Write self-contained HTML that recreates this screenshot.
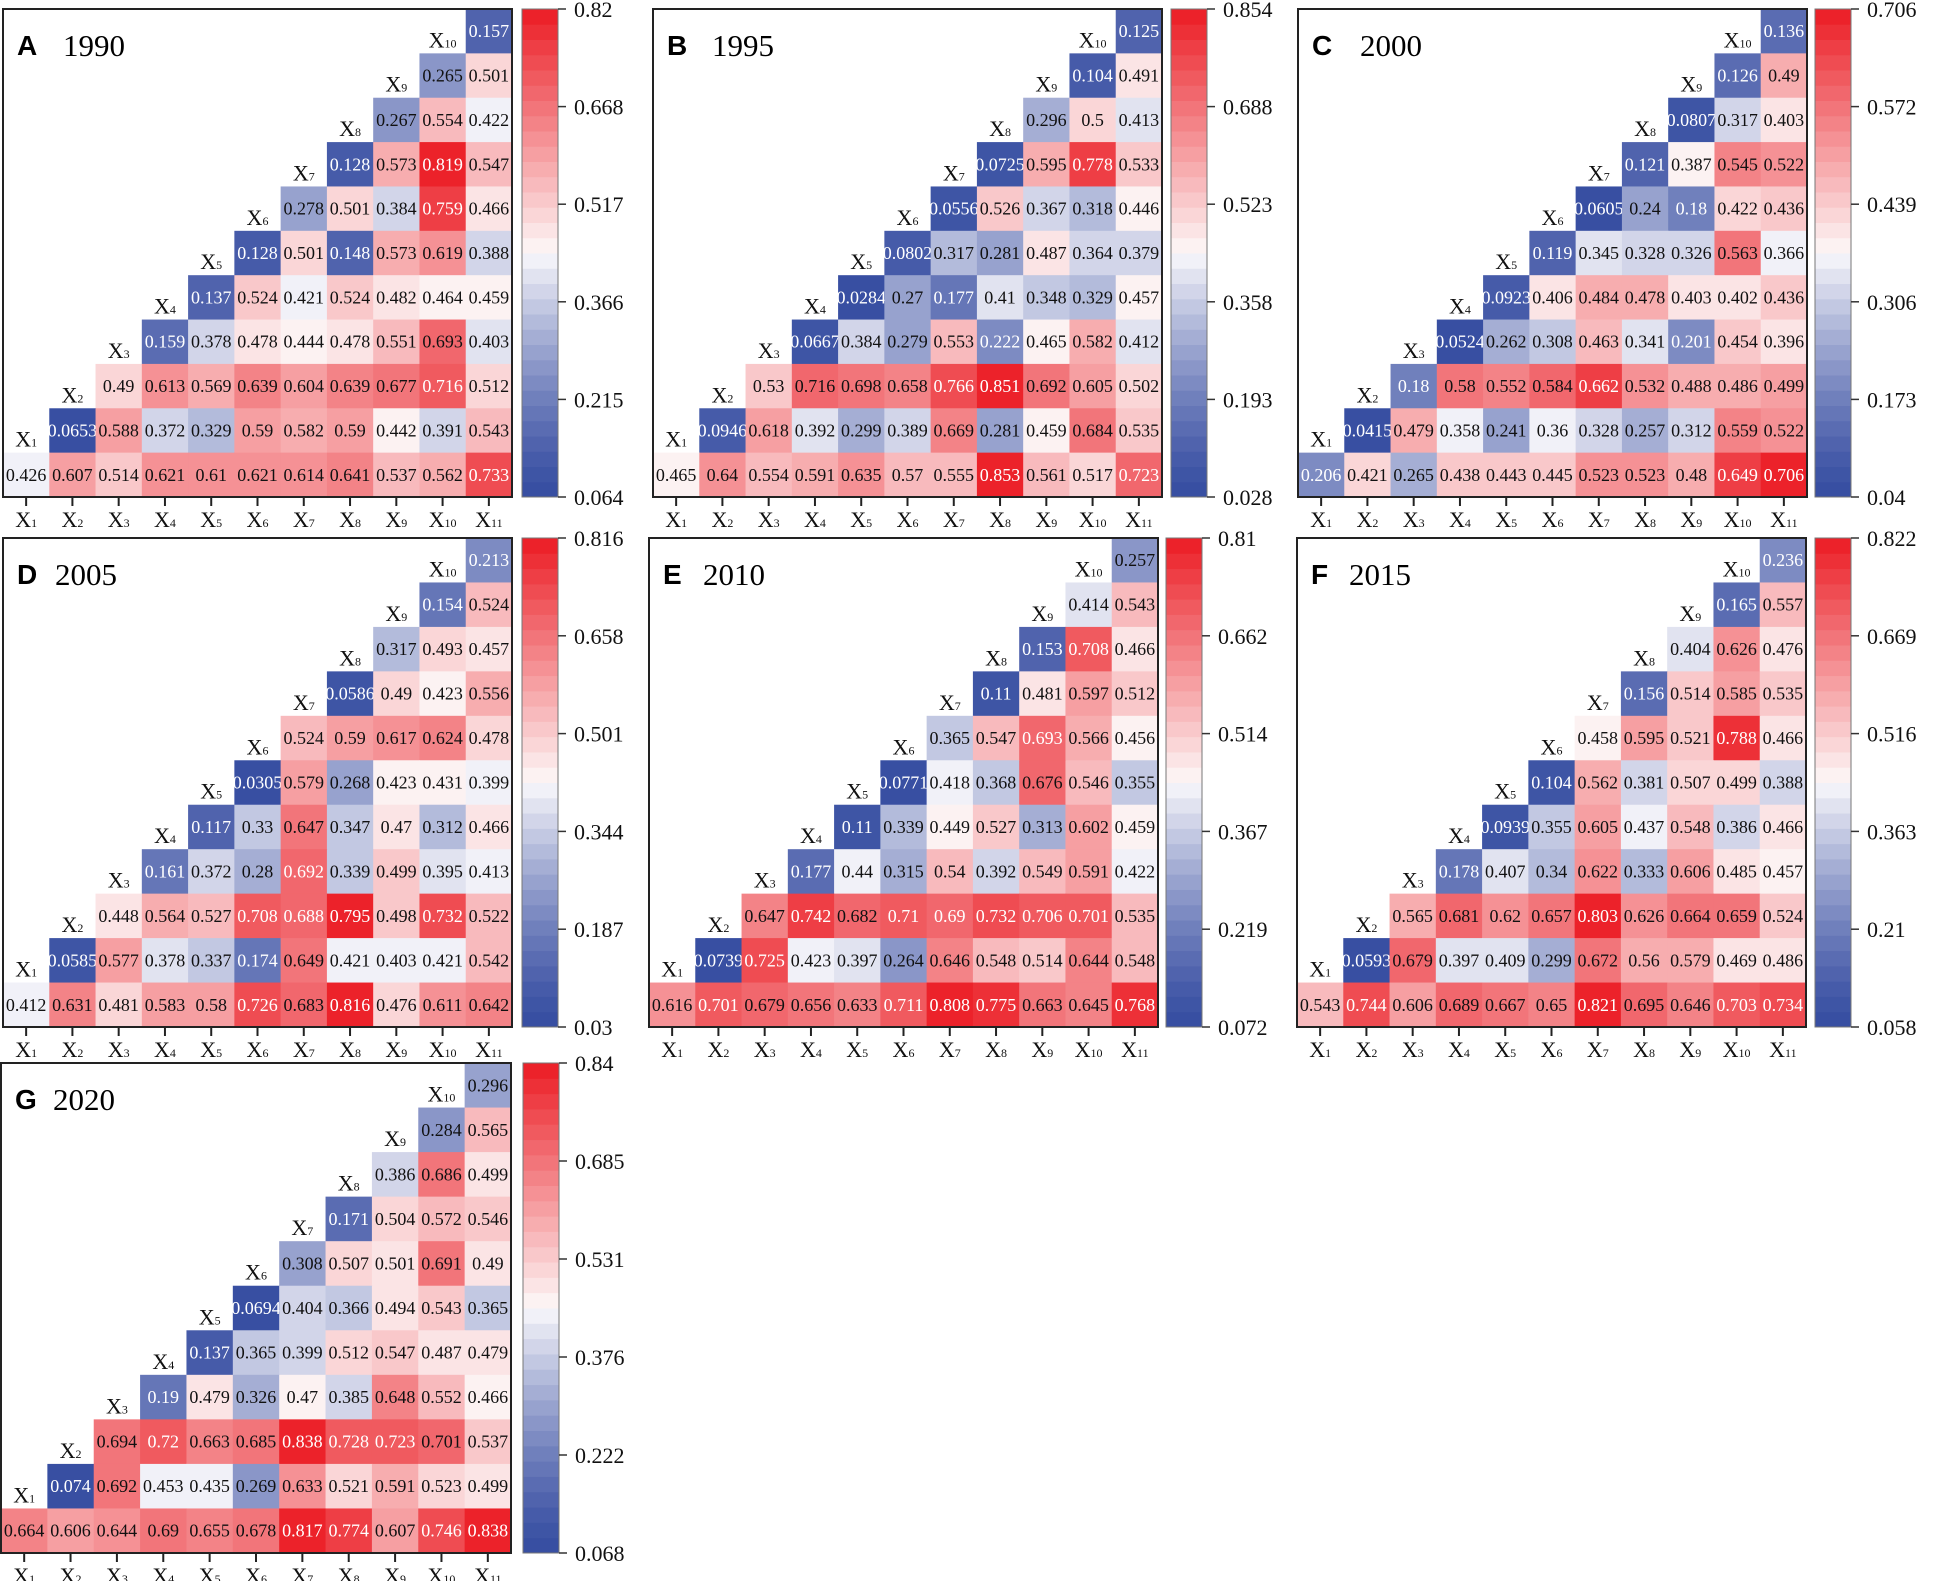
<!DOCTYPE html>
<html><head><meta charset="utf-8">
<style>
html,body{margin:0;padding:0;background:#fff;}
svg{display:block;}
text{font-family:"Liberation Serif",serif;}
.lt{font-family:"Liberation Sans",sans-serif;font-weight:bold;}
</style></head>
<body>
<svg id="fig" width="1940" height="1581" viewBox="0 0 1940 1581" xmlns="http://www.w3.org/2000/svg"></svg>
<script>
const panelLetters = ["A","B","C","D","E","F","G"];
const panelYears = ["1990","1995","2000","2005","2010","2015","2020"];
const rangeMin = [0.064,0.028,0.04,0.03,0.072,0.058,0.068];
const rangeMax = [0.82,0.854,0.706,0.816,0.81,0.822,0.84];
const tickA = ["0.82","0.668","0.517","0.366","0.215","0.064"];
const tickB = ["0.854","0.688","0.523","0.358","0.193","0.028"];
const tickC = ["0.706","0.572","0.439","0.306","0.173","0.04"];
const tickD = ["0.816","0.658","0.501","0.344","0.187","0.03"];
const tickE = ["0.81","0.662","0.514","0.367","0.219","0.072"];
const tickF = ["0.822","0.669","0.516","0.363","0.21","0.058"];
const tickG = ["0.84","0.685","0.531","0.376","0.222","0.068"];
const varLabels = ["1","2","3","4","5","6","7","8","9","10","11"];
const dataA = [
[0.157],[0.265,0.501],[0.267,0.554,0.422],[0.128,0.573,0.819,0.547],
[0.278,0.501,0.384,0.759,0.466],[0.128,0.501,0.148,0.573,0.619,0.388],
[0.137,0.524,0.421,0.524,0.482,0.464,0.459],[0.159,0.378,0.478,0.444,0.478,0.551,0.693,0.403],
[0.49,0.613,0.569,0.639,0.604,0.639,0.677,0.716,0.512],
[0.0653,0.588,0.372,0.329,0.59,0.582,0.59,0.442,0.391,0.543],
[0.426,0.607,0.514,0.621,0.61,0.621,0.614,0.641,0.537,0.562,0.733]];
const dataB = [
[0.125],[0.104,0.491],[0.296,0.5,0.413],[0.0725,0.595,0.778,0.533],
[0.0556,0.526,0.367,0.318,0.446],[0.0802,0.317,0.281,0.487,0.364,0.379],
[0.0284,0.27,0.177,0.41,0.348,0.329,0.457],[0.0667,0.384,0.279,0.553,0.222,0.465,0.582,0.412],
[0.53,0.716,0.698,0.658,0.766,0.851,0.692,0.605,0.502],
[0.0946,0.618,0.392,0.299,0.389,0.669,0.281,0.459,0.684,0.535],
[0.465,0.64,0.554,0.591,0.635,0.57,0.555,0.853,0.561,0.517,0.723]];
const dataC = [
[0.136],[0.126,0.49],[0.0807,0.317,0.403],[0.121,0.387,0.545,0.522],
[0.0605,0.24,0.18,0.422,0.436],[0.119,0.345,0.328,0.326,0.563,0.366],
[0.0923,0.406,0.484,0.478,0.403,0.402,0.436],[0.0524,0.262,0.308,0.463,0.341,0.201,0.454,0.396],
[0.18,0.58,0.552,0.584,0.662,0.532,0.488,0.486,0.499],
[0.0415,0.479,0.358,0.241,0.36,0.328,0.257,0.312,0.559,0.522],
[0.206,0.421,0.265,0.438,0.443,0.445,0.523,0.523,0.48,0.649,0.706]];
const dataD = [
[0.213],[0.154,0.524],[0.317,0.493,0.457],[0.0586,0.49,0.423,0.556],
[0.524,0.59,0.617,0.624,0.478],[0.0305,0.579,0.268,0.423,0.431,0.399],
[0.117,0.33,0.647,0.347,0.47,0.312,0.466],[0.161,0.372,0.28,0.692,0.339,0.499,0.395,0.413],
[0.448,0.564,0.527,0.708,0.688,0.795,0.498,0.732,0.522],
[0.0585,0.577,0.378,0.337,0.174,0.649,0.421,0.403,0.421,0.542],
[0.412,0.631,0.481,0.583,0.58,0.726,0.683,0.816,0.476,0.611,0.642]];
const dataE = [
[0.257],[0.414,0.543],[0.153,0.708,0.466],[0.11,0.481,0.597,0.512],
[0.365,0.547,0.693,0.566,0.456],[0.0771,0.418,0.368,0.676,0.546,0.355],
[0.11,0.339,0.449,0.527,0.313,0.602,0.459],[0.177,0.44,0.315,0.54,0.392,0.549,0.591,0.422],
[0.647,0.742,0.682,0.71,0.69,0.732,0.706,0.701,0.535],
[0.0739,0.725,0.423,0.397,0.264,0.646,0.548,0.514,0.644,0.548],
[0.616,0.701,0.679,0.656,0.633,0.711,0.808,0.775,0.663,0.645,0.768]];
const dataF = [
[0.236],[0.165,0.557],[0.404,0.626,0.476],[0.156,0.514,0.585,0.535],
[0.458,0.595,0.521,0.788,0.466],[0.104,0.562,0.381,0.507,0.499,0.388],
[0.0939,0.355,0.605,0.437,0.548,0.386,0.466],[0.178,0.407,0.34,0.622,0.333,0.606,0.485,0.457],
[0.565,0.681,0.62,0.657,0.803,0.626,0.664,0.659,0.524],
[0.0593,0.679,0.397,0.409,0.299,0.672,0.56,0.579,0.469,0.486],
[0.543,0.744,0.606,0.689,0.667,0.65,0.821,0.695,0.646,0.703,0.734]];
const dataG = [
[0.296],[0.284,0.565],[0.386,0.686,0.499],[0.171,0.504,0.572,0.546],
[0.308,0.507,0.501,0.691,0.49],[0.0694,0.404,0.366,0.494,0.543,0.365],
[0.137,0.365,0.399,0.512,0.547,0.487,0.479],[0.19,0.479,0.326,0.47,0.385,0.648,0.552,0.466],
[0.694,0.72,0.663,0.685,0.838,0.728,0.723,0.701,0.537],
[0.074,0.692,0.453,0.435,0.269,0.633,0.521,0.591,0.523,0.499],
[0.664,0.606,0.644,0.69,0.655,0.678,0.817,0.774,0.607,0.746,0.838]];

const allData=[dataA,dataB,dataC,dataD,dataE,dataF,dataG];
const allTicks=[tickA,tickB,tickC,tickD,tickE,tickF,tickG];
// layout: [gridLeft, gridTop, gridW, gridH, cbLeft, yearOffset]
const layout=[[3,9,509,488,522,60],[653,9,509,488,1171,59],[1298,9,509,488,1815,62],
[3,538,509,489,522,52],[649,538,509,489,1166,54],[1297,538,509,489,1815,52],[1,1063,510,490,523,52]];
const NS="http://www.w3.org/2000/svg";
const svg=document.getElementById('fig');
const LEVELS=32;
function colorAt(t){
  t=Math.max(0,Math.min(1,t));
  const q=Math.min(LEVELS-1,Math.floor(t*LEVELS));
  const tt=(q+0.5)/LEVELS;
  let r,g,b;
  if(tt<0.5){const s=Math.pow(tt/0.5,1.35);
    r=55+(250-55)*s; g=78+(249-78)*s; b=162+(252-162)*s;}
  else{const u=(tt-0.5)/0.5;
    r=253+(236-253)*u; g=249+(28-249)*u; b=249+(36-249)*u;}
  return `rgb(${r|0},${g|0},${b|0})`;
}
function mk(tag,attrs,parent){const e=document.createElementNS(NS,tag);for(const k in attrs)e.setAttribute(k,attrs[k]);(parent||svg).appendChild(e);return e;}
function xlabel(parent,x,y,idx,size){
  const t=mk('text',{x:x,y:y,'text-anchor':'middle','font-size':size,fill:'#111'},parent);
  
  
  t.appendChild(document.createTextNode('X'));
  const s=document.createElementNS(NS,'tspan');
  s.setAttribute('font-size',Math.round(size*0.55));
  s.textContent=varLabels[idx];
  t.appendChild(s);
  return t;
}
allData.forEach((data,p)=>{
  const [L,T,W,H,CB,YO]=layout[p];
  const mn=rangeMin[p],mx=rangeMax[p];
  const cw=W/11,ch=H/11;
  const g=mk('g',{});
  
  
  data.forEach((row,r)=>{
    const start=11-row.length;
    row.forEach((v,k)=>{
      const c=start+k;
      const t=(v-mn)/(mx-mn);
      const rc=mk('rect',{x:L+c*cw,y:T+r*ch,width:cw+0.6,height:ch+0.6,fill:colorAt(t)},g);
      
      
      const tx=mk('text',{x:L+(c+0.5)*cw,y:T+(r+0.5)*ch+6,'text-anchor':'middle','font-size':18,fill:(t<0.25||t>0.835)?'#fff':'#111'},g);
      
      
      tx.textContent=String(v);
    });
    if(r<10){ xlabel(g,L+(9-r+0.5)*cw,T+(r+1)*ch-6,9-r,22); }
  });
  const fr=mk('rect',{x:L,y:T,width:W,height:H,fill:'none',stroke:'#222','stroke-width':2},g);
  
  
  for(let c=0;c<11;c++){
    const x=L+(c+0.5)*cw;
    const tk=mk('line',{x1:x,y1:T+H,x2:x,y2:T+H+9,stroke:'#222','stroke-width':2},g);
    
    
    xlabel(g,x,T+H+30,c,22);
  }
  const lt=mk('text',{x:L+14,y:T+46,'font-size':28,fill:'#000',class:'lt'},g);
  
  
  lt.textContent=panelLetters[p];
  const yr=mk('text',{x:L+YO,y:T+47,'font-size':31,fill:'#000'},g);
  
  
  yr.textContent=panelYears[p];
  // colorbar
  const cbw=36;
  const cg=mk('g',{},g);
  
  
  for(let i=0;i<LEVELS;i++){
    const segH=H/LEVELS;
    const sr=mk('rect',{x:CB,y:T+H-(i+1)*segH,width:cbw,height:segH+0.5,fill:colorAt((i+0.5)/LEVELS)},cg);
    
    
  }
  mk('rect',{x:CB,y:T,width:cbw,height:H,fill:'none',stroke:'#777','stroke-width':1},cg);
  const ticks=allTicks[p];
  ticks.forEach((lab,i)=>{
    const y=T+i*H/(ticks.length-1);
    const tl=mk('line',{x1:CB+cbw,y1:y,x2:CB+cbw+8,y2:y,stroke:'#333','stroke-width':1.5},cg);
    
    
    const tt=mk('text',{x:CB+cbw+16,y:y+8,'font-size':22,fill:'#111'},cg);
    
    
    tt.textContent=lab;
  });
});
</script>
</body></html>
